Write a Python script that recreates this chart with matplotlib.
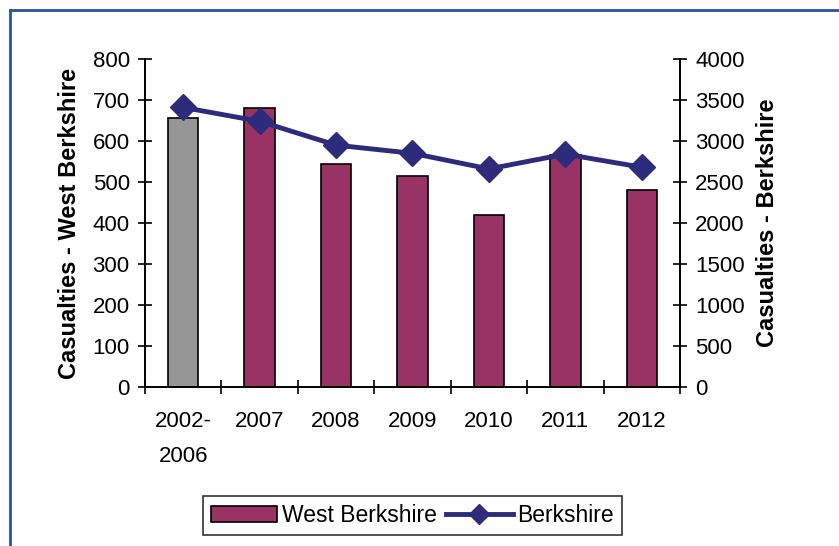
import numpy as np
import matplotlib
matplotlib.use("Agg")
import matplotlib.pyplot as plt
from matplotlib.lines import Line2D
from matplotlib.patches import Patch

plt.rcParams['font.family'] = ['Liberation Sans', 'DejaVu Sans']

categories = ["2002-\n2006", "2007", "2008", "2009", "2010", "2011", "2012"]
west_berkshire = [657, 680, 543, 515, 420, 565, 481]
berkshire = [3410, 3240, 2950, 2850, 2660, 2840, 2680]

bar_colors = ["#969696"] + ["#993366"] * 6
line_color = "#2d2b7c"
fs = 16

fig = plt.figure(figsize=(8.39, 5.46), dpi=100)
ax = fig.add_axes([0.1728, 0.2912, 0.6377, 0.6007])
ax2 = ax.twinx()

x = np.arange(len(categories))
ax.bar(x, west_berkshire, width=0.4, color=bar_colors, edgecolor="black", linewidth=1.2, zorder=2)
ax2.plot(x, berkshire, color=line_color, linewidth=3.5, marker="D", markersize=13, zorder=3)

ax.set_xlim(-0.5, len(categories) - 0.5)
ax.set_ylim(0, 800)
ax2.set_ylim(0, 4000)
ax.set_yticks(np.arange(0, 801, 100))
ax2.set_yticks(np.arange(0, 4001, 500))

ax.set_xticks(x)
ax.set_xticklabels(categories, fontsize=fs, linespacing=1.9)
ax.set_xticks(np.arange(-0.5, len(categories), 1), minor=True)
ax.tick_params(axis="x", which="major", length=0, pad=17)
ax.tick_params(axis="x", which="minor", length=10, direction="inout", width=1.2)
ax.tick_params(axis="y", length=10, direction="inout", width=1.2, labelsize=fs, pad=6)
ax2.tick_params(axis="y", length=10, direction="inout", width=1.2, labelsize=fs, pad=6)

for a in (ax, ax2):
    a.spines["top"].set_visible(False)
    for s in ("left", "right", "bottom"):
        a.spines[s].set_linewidth(1.2)

ax.set_ylabel("Casualties - West Berkshire", fontsize=17, fontweight="bold", labelpad=8)
ax2.set_ylabel("Casualties - Berkshire", fontsize=17, fontweight="bold", labelpad=8)

handles = [Patch(facecolor="#993366", edgecolor="black", linewidth=1.2),
           Line2D([0], [0], color=line_color, linewidth=3.5, marker="D", markersize=10)]
leg = fig.legend(handles, ["West Berkshire", "Berkshire"], loc="center",
                 bbox_to_anchor=(0.4915, 0.0555), ncol=2, fontsize=16.5, frameon=True,
                 fancybox=False, edgecolor="black", handlelength=2.9, handletextpad=0.2,
                 columnspacing=0.4, borderpad=0.35)
leg.get_frame().set_linewidth(1.2)

# outer blue frame
fig.add_artist(Line2D([10 / 839, 10 / 839], [0, 1 - 10 / 546], color="#2a4fa8", linewidth=2))
fig.add_artist(Line2D([10 / 839, 1], [1 - 10 / 546, 1 - 10 / 546], color="#2a4fa8", linewidth=2))

fig.savefig("out.png", dpi=100)
